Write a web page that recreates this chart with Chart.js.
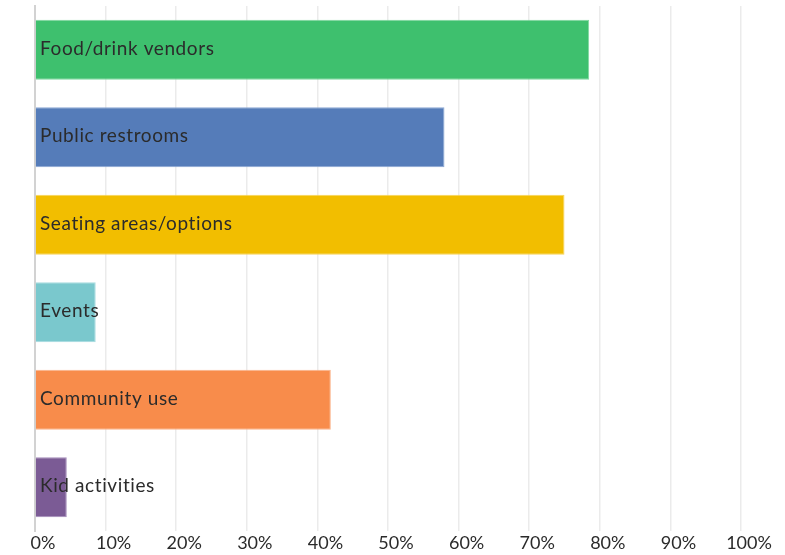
<!DOCTYPE html>
<html>
<head>
<meta charset="utf-8">
<script src="https://cdn.jsdelivr.net/npm/chart.js@4"></script>
<style>
html,body{margin:0;padding:0;background:#fff;}
#wrap{width:785px;height:555px;position:relative;}
</style>
</head>
<body>
<div id="wrap"><canvas id="c" width="785" height="555"></canvas></div>
<script>
const categories = ["Food/drink vendors","Public restrooms","Seating areas/options","Events","Community use","Kid activities"];
const values = [78.5, 58.0, 75.0, 8.6, 41.9, 4.5];
const colors = ["#3ec06e","#557cb9","#f2be00","#7ac8cd","#f88c4b","#7b5b95"];
const borderColors = ["#7fd89f","#8aa6d4","#f7d35a","#a6dcdf","#fbb48a","#a48bba"];
const tickLabels = ["0%","10%","20%","30%","40%","50%","60%","70%","80%","90%","100%"];

const insideLabels = {
  id: 'insideLabels',
  afterDatasetsDraw(chart) {
    const ctx = chart.ctx;
    const meta = chart.getDatasetMeta(0);
    const xs = chart.scales.x;
    ctx.save();
    ctx.font = '19px Lato, "Open Sans", sans-serif';
    try { ctx.letterSpacing = '0.6px'; } catch (e) {}
    ctx.fillStyle = '#2b2b2b';
    ctx.textBaseline = 'middle';
    ctx.textAlign = 'left';
    meta.data.forEach((bar, i) => {
      ctx.fillText(categories[i], xs.getPixelForValue(0) + 5, bar.y - 1);
    });
    ctx.restore();
  }
};

new Chart(document.getElementById('c'), {
  type: 'bar',
  data: {
    labels: categories,
    datasets: [{
      data: values,
      backgroundColor: colors,
      borderColor: borderColors,
      borderWidth: 1,
      borderSkipped: 'start',
      barPercentage: 0.686,
      categoryPercentage: 1.0
    }]
  },
  options: {
    indexAxis: 'y',
    responsive: false,
    animation: false,
    devicePixelRatio: 1,
    layout: { padding: { top: 6, right: 44, left: 0, bottom: 0 } },
    plugins: { legend: { display: false }, tooltip: { enabled: false } },
    scales: {
      x: {
        min: 0, max: 100,
        afterBuildTicks(scale) {
          scale.ticks = tickLabels.map((t, i) => ({ value: i * 10 }));
        },
        ticks: {
          callback: (v, i) => tickLabels[i],
          font: { family: 'Lato, "Open Sans", sans-serif', size: 18 },
          color: '#2b2b2b',
          padding: 1,
          labelOffset: 8,
          maxRotation: 0,
          autoSkip: false
        },
        grid: { color: '#ebebeb', lineWidth: 1.5, drawTicks: false },
        border: { display: false },
        afterFit(scale) { scale.height = 24; }
      },
      y: {
        ticks: { display: false },
        grid: { display: false, drawTicks: false },
        border: { display: true, color: '#d2d2d2', width: 2 },
        afterFit(scale) { scale.width = 35; }
      }
    }
  },
  plugins: [insideLabels]
});
</script>
</body>
</html>
